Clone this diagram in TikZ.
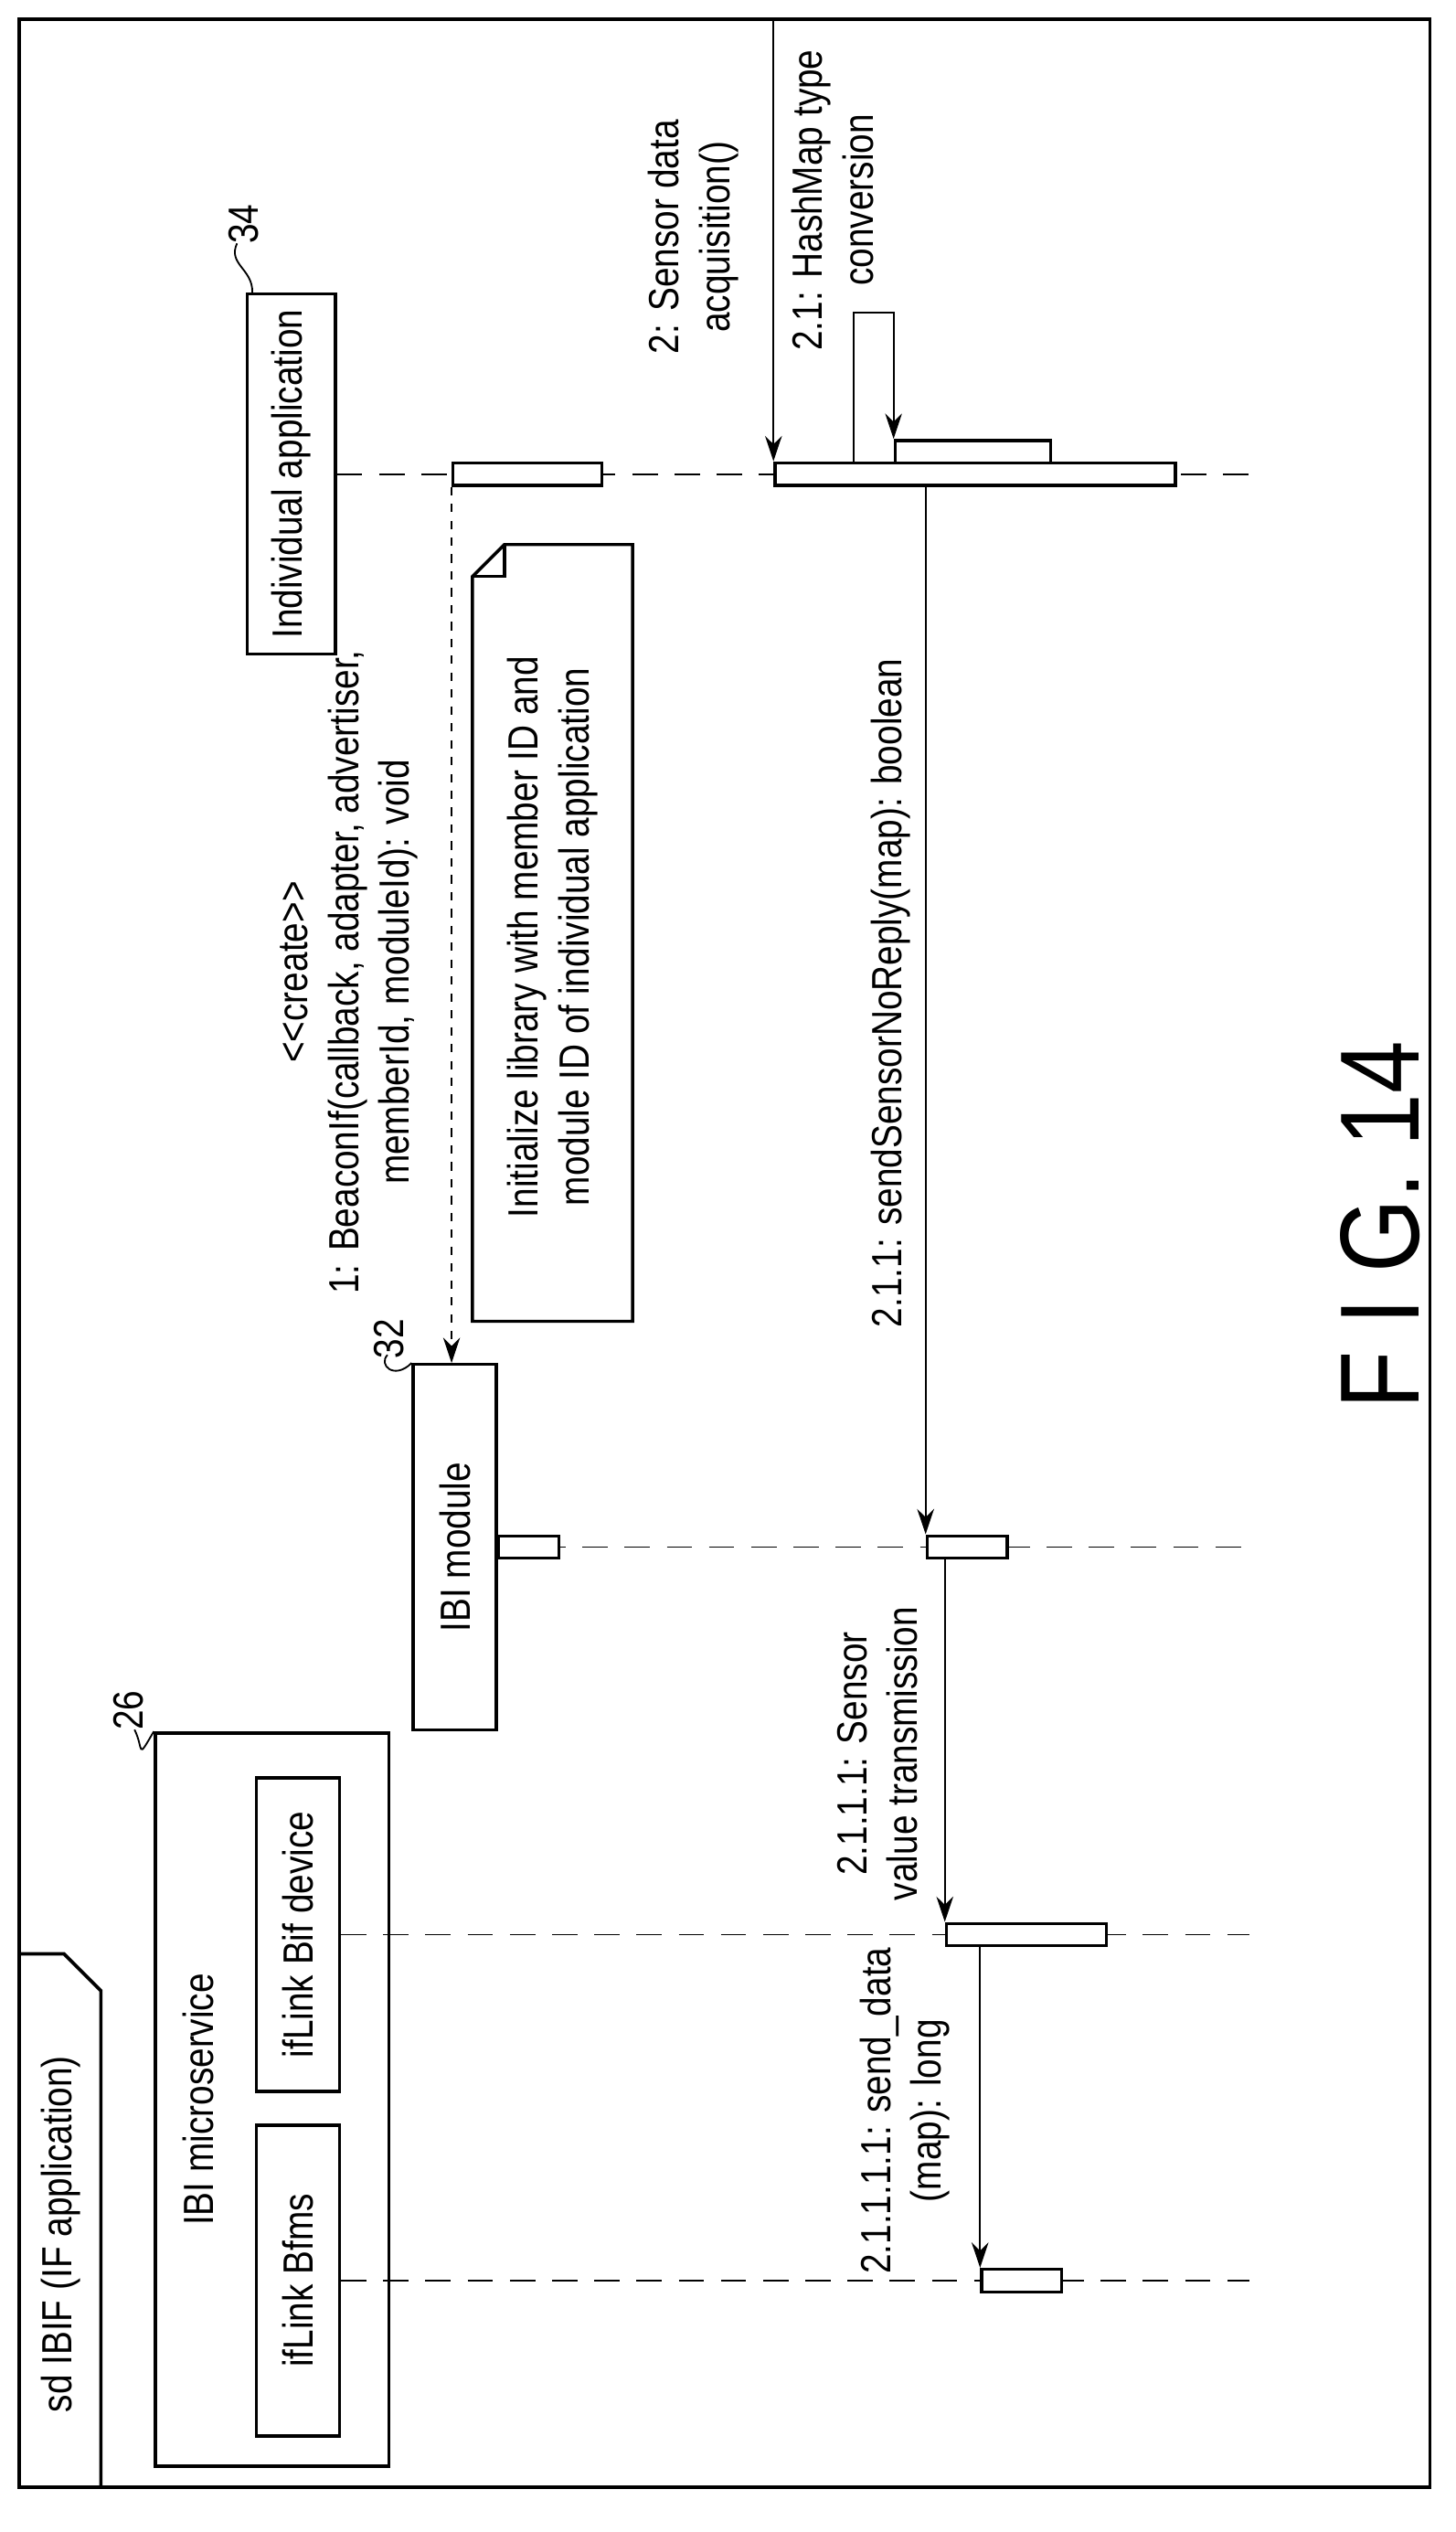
\documentclass[tikz,border=0pt]{standalone}
\usepackage{fontspec}
\setmainfont{Liberation Sans}[FakeStretch=0.84]
\usetikzlibrary{arrows.meta}
\begin{document}
\begin{tikzpicture}[x=0.02cm,y=-0.02cm,
    box/.style={draw,line width=1.1pt,rotate=90,inner sep=0pt,font=\fontsize{15}{18}\selectfont},
    bar/.style={draw,fill=white,line width=1.1pt,minimum height=0.28cm,inner sep=0pt,anchor=west},
    life/.style={dashed,dash pattern=on 9pt off 6pt,line width=0.6pt},
    msg/.style={line width=0.6pt,-{Stealth[length=9pt,width=6pt]}},
    lbl/.style={rotate=90,align=center,font=\fontsize{15}{18}\selectfont},
    num/.style={font=\fontsize{15}{18}\selectfont,rotate=90}]

    \useasboundingbox (0,0) rectangle (909,1581);

    % frame and its tab
    \draw[line width=1.2pt] (12,12) rectangle (893,1553);
    \draw[line width=1.2pt] (12,1220) -- (40,1220) -- (63,1243) -- (63,1553);
    \node[lbl] (sd) at (38,1395) {sd IBIF (IF application)};
    \coordinate (ftop) at (0,12);
    \coordinate (lifeend) at (780,0);

    % lifeline heads
    \node[box,minimum width=4.5cm,minimum height=1.1cm] (app) at (182,296) {Individual application};
    \node[box,minimum width=4.56cm,minimum height=1.04cm] (ibi) at (284,966) {IBI module};
    \node[draw,line width=1.1pt,minimum width=2.92cm,minimum height=9.16cm] (ms) at (170,1311) {};
    \node[lbl] (mslbl) at (124,1311) {IBI microservice};
    \node[box,minimum width=3.92cm,minimum height=1.04cm] (bif) at (186,1208) {ifLink Bif device};
    \node[box,minimum width=3.88cm,minimum height=1.04cm] (bfms) at (186,1424) {ifLink Bfms};

    % reference numerals
    \node[num] (n34) at (152,140) {34};
    \draw[line width=0.6pt] (app.north east) ++(4,0) .. controls (158,168) and (142,165) .. (148,152);
    \node[num] (n32) at (243,836) {32};
    \draw[line width=0.6pt] (ibi.north east) .. controls (246,862) and (236,852) .. (242,846);
    \node[num] (n26) at (80,1068) {26};
    \draw[line width=0.6pt] (ms.north west) .. controls (85,1100) and (90,1092) .. (84,1080);

    % lifelines
    \draw[life] (app.south) -- (app.south -| lifeend);
    \draw[life] (ibi.south) -- (ibi.south -| lifeend);
    \draw[life] (bif.south) -- (bif.south -| lifeend);
    \draw[life] (bfms.south) -- (bfms.south -| lifeend);

    % activations
    \node[bar,minimum width=1.86cm] (ab1) at (282,296) {};
    \node[bar,minimum width=5cm] (ab2) at (483,296) {};
    \node[bar,minimum width=1.94cm] (ab3) at (558,282) {};
    \node[bar,minimum width=0.76cm] (ib1) at (310,966) {};
    \node[bar,minimum width=1cm] (ib2) at (578,966) {};
    \node[bar,minimum width=2cm] (db1) at (590,1208) {};
    \node[bar,minimum width=1cm] (fb1) at (612,1424) {};
    \coordinate (selfturn) at (558,195);

    % note
    \draw[line width=1.1pt] (295,360) -- (295,825) -- (395,825) -- (395,340) -- (315,340) -- cycle;
    \draw[line width=1.1pt] (315,340) -- (315,360) -- (295,360);
    \node[lbl] (note) at (345,585) {Initialize library with member ID and\\module ID of individual application};

    % messages
    \draw[msg,dashed] (ab1.south west) -- (ab1.south west |- ibi.east);
    \node[lbl] (m1) at (218,607) {<{}<create>{}>\\1: BeaconIf(callback, adapter, advertiser,\\memberId, moduleId): void};
    \draw[msg] (ab2.north west |- ftop) -- (ab2.north west);
    \node[lbl] (m2) at (433,148) {2: Sensor data\\acquisition()};
    \draw[msg] ([xshift=1cm]ab2.north west) |- (selfturn) -- (ab3.north west);
    \node[lbl] (m21) at (520,125) {2.1: HashMap type\\conversion};
    \draw[msg] (ib2.north west |- ab2.south) -- (ib2.north west);
    \node[lbl] (m211) at (556,620) {2.1.1: sendSensorNoReply(map): boolean};
    \draw[msg] (db1.north west |- ib2.south) -- (db1.north west);
    \node[lbl] (m2111) at (548,1095) {2.1.1.1: Sensor\\value transmission};
    \draw[msg] (fb1.north west |- db1.south) -- (fb1.north west);
    \node[lbl] (m21111) at (565,1318) {2.1.1.1.1: send\_data\\(map): long};

    \node[rotate=90,font=\fontsize{40}{48}\selectfont] (fig) at (862,765) {F I G. 14};
\end{tikzpicture}
\end{document}
